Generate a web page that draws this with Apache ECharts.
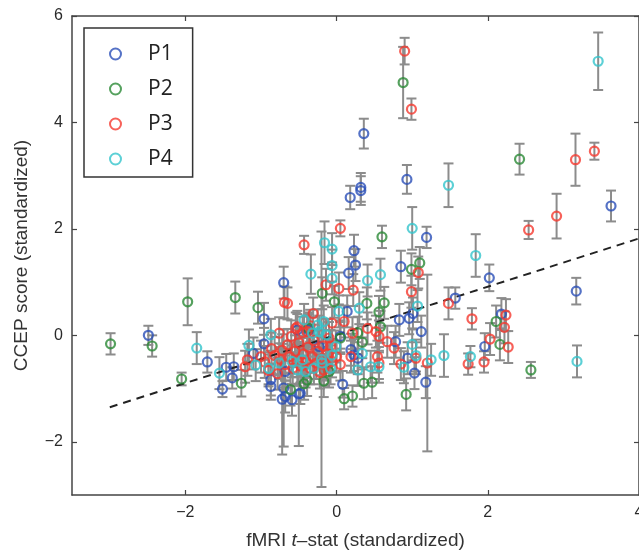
<!DOCTYPE html>
<html>
<head>
<meta charset="utf-8">
<script src="https://cdn.jsdelivr.net/npm/echarts@6/dist/echarts.min.js"></script>
<style>
html,body{margin:0;padding:0;background:#fff;}
#chart{width:639px;height:552px;}
</style>
</head>
<body>
<div id="chart"></div>
<script>
// [x (fMRI t-stat), y (CCEP score), error half-length]
const P1 = [
  [-2.49, 0.00, 0.18], [-1.71, -0.50, 0.20], [-1.51, -1.01, 0.15], [-1.46, -0.60, 0.25],
  [-1.36, -0.59, 0.25], [-1.38, -0.80, 0.20], [-1.10, -0.34, 0.30], [-0.96, 0.31, 0.30],
  [-0.96, -0.16, 0.30], [-0.87, -0.96, 0.25], [-0.87, -0.83, 0.30], [-0.70, 0.99, 0.30],
  [-0.72, -1.20, 1.04], [-0.70, -0.99, 1.10], [-0.68, -0.68, 0.30], [-0.68, -1.15, 0.30],
  [-0.59, -1.21, 0.30], [-0.50, -1.10, 0.98], [-0.48, -1.09, 0.20], [-0.37, 0.10, 0.30],
  [-0.52, 0.10, 0.30], [-0.23, -0.21, 0.30], [0.05, -0.02, 0.30], [0.08, -0.92, 0.25],
  [0.14, 0.45, 0.30], [0.16, 1.17, 0.30], [0.18, 2.59, 0.22], [0.19, -0.27, 0.30],
  [0.23, -0.37, 0.30], [0.23, 1.59, 0.30], [0.25, 1.32, 0.30], [0.28, -0.43, 0.30],
  [0.32, 2.78, 0.27], [0.32, 2.72, 0.27], [0.36, 3.79, 0.28], [0.78, -0.12, 0.30],
  [0.83, 0.29, 0.30], [0.85, 1.29, 0.30], [0.93, 2.93, 0.27], [0.94, -0.43, 0.30],
  [0.96, 0.32, 0.30], [1.01, 0.41, 0.30], [1.03, -0.71, 0.30], [1.12, 0.07, 0.30],
  [1.18, -0.88, 0.30], [1.19, 1.84, 0.20], [1.57, 0.70, 0.20], [1.96, -0.21, 0.25],
  [2.02, 1.08, 0.25], [2.18, 0.40, 0.30], [3.17, 0.83, 0.25], [3.63, 2.43, 0.29]
];
const P2 = [
  [-2.99, -0.16, 0.20], [-2.44, -0.20, 0.20], [-2.05, -0.82, 0.12], [-1.97, 0.63, 0.44],
  [-1.34, 0.71, 0.30], [-1.26, -0.90, 0.25], [-1.04, 0.52, 0.30], [-0.61, -1.02, 0.30],
  [-0.43, -0.91, 0.30], [-0.39, -0.84, 0.30], [-0.37, 0.13, 0.30], [-0.19, 0.79, 0.30],
  [-0.17, -0.86, 0.30], [-0.10, -0.68, 0.30], [-0.03, 0.63, 0.30], [0.05, -0.05, 0.30],
  [0.10, -1.19, 0.20], [0.21, -1.14, 0.20], [0.28, 0.05, 0.30], [0.34, -0.13, 0.30],
  [0.36, -0.90, 0.30], [0.40, 0.60, 0.30], [0.47, -0.88, 0.30], [0.56, 0.44, 0.30],
  [0.58, 0.16, 0.30], [0.60, 1.85, 0.21], [0.63, 0.61, 0.30], [0.88, 4.75, 0.67],
  [0.92, -1.11, 0.30], [0.99, 1.24, 0.30], [1.10, 1.36, 0.30], [2.11, 0.26, 0.30],
  [2.16, -0.17, 0.30], [2.42, 3.31, 0.29], [2.57, -0.65, 0.15]
];
const P3 = [
  [0.90, 5.34, 0.25], [0.99, 4.25, 0.20], [3.16, 3.30, 0.49], [3.41, 3.46, 0.16],
  [2.91, 2.24, 0.42], [2.54, 1.98, 0.17], [0.05, 2.01, 0.15], [-0.43, 1.70, 0.17],
  [-0.69, 0.62, 0.30], [1.08, 1.18, 0.30], [0.99, 0.82, 0.30], [1.48, 0.60, 0.30],
  [1.79, 0.31, 0.20], [2.24, 0.38, 0.30], [2.22, 0.15, 0.30], [2.03, -0.07, 0.30],
  [2.27, -0.22, 0.30], [1.74, -0.54, 0.20], [1.95, -0.50, 0.20], [1.20, -0.52, 1.66],
  [1.05, -0.43, 0.30], [0.85, -0.54, 0.30], [0.76, -0.24, 0.30], [0.67, -0.12, 0.30],
  [0.56, -0.02, 0.30], [0.54, -0.40, 0.30], [0.56, -0.52, 0.30], [0.52, 0.07, 0.30],
  [0.41, 0.13, 0.30], [0.21, 0.04, 0.30], [0.19, -0.40, 0.30], [0.10, 0.26, 0.30],
  [0.22, 0.85, 0.30], [0.03, 0.88, 0.30], [-0.14, 0.95, 0.30], [-0.31, 0.41, 0.30],
  [-0.65, 0.60, 0.30], [-0.06, 0.23, 0.30], [-0.39, 0.07, 0.30], [-0.52, 0.16, 0.30],
  [-0.76, 0.04, 0.30], [-1.18, -0.46, 0.30], [-1.21, -0.59, 0.30], [-0.17, -0.65, 0.30],
  [-0.06, -0.49, 0.30], [-1.00, -0.40, 0.30], [-0.95, -0.50, 0.30], [-0.90, -0.66, 0.30],
  [-0.86, -0.25, 0.30], [-0.82, -0.38, 0.35], [-0.78, -0.72, 0.30], [-0.75, -0.45, 0.30],
  [-0.72, -0.28, 0.30], [-0.68, -0.55, 0.30], [-0.65, -0.18, 0.30], [-0.62, -0.40, 0.30],
  [-0.60, -0.02, 0.30], [-0.58, -0.62, 0.30], [-0.55, -0.30, 0.30], [-0.52, -0.48, 0.30],
  [-0.50, -0.14, 0.30], [-0.47, -0.58, 0.30], [-0.45, 0.05, 0.30], [-0.44, -0.35, 0.30],
  [-0.40, -0.50, 0.30], [-0.38, -0.22, 0.30], [-0.35, -0.62, 0.30], [-0.35, 0.18, 0.30],
  [-0.32, -0.40, 0.30], [-0.30, -0.10, 0.30], [-0.27, -0.52, 0.30], [-0.25, -0.30, 0.30],
  [-0.22, -0.70, 0.30], [-0.20, -0.45, 0.30], [-0.18, -0.20, 0.30], [-0.14, -0.55, 0.30],
  [-0.12, -0.35, 0.30], [-0.10, -0.05, 0.30], [-0.08, -0.20, 0.30], [0.00, -0.40, 0.30],
  [0.05, -0.55, 0.30], [-0.54, 0.13, 0.30]
];
const P4 = [
  [3.46, 5.15, 0.54], [1.48, 2.82, 0.41], [1.00, 2.01, 0.40], [1.84, 1.50, 0.40],
  [-0.16, 1.74, 0.40], [-0.06, 1.62, 0.30], [-0.06, 1.31, 0.30], [-0.06, 1.07, 0.30],
  [0.58, 1.14, 0.30], [0.41, 1.03, 0.30], [-0.34, 1.15, 0.37], [1.07, 0.55, 0.30],
  [0.30, 0.51, 0.30], [0.03, 0.45, 0.30], [-0.43, 0.29, 0.30], [-0.17, 0.26, 0.30],
  [-0.25, 0.19, 0.30], [-0.87, 0.01, 0.30], [-0.32, 0.04, 0.30], [-0.23, 0.07, 0.30],
  [-0.14, 0.01, 0.30], [-1.16, -0.19, 0.30], [-1.85, -0.24, 0.30], [-1.55, -0.71, 0.30],
  [-1.07, -0.56, 0.30], [-0.90, -0.62, 0.30], [-0.76, -0.52, 0.30], [-0.59, -0.49, 0.30],
  [-0.45, -0.46, 0.30], [-0.52, -0.65, 0.30], [-0.41, -0.68, 0.30], [-0.30, -0.62, 0.30],
  [-0.19, -0.52, 0.30], [-0.08, -0.62, 0.30], [-0.01, -0.21, 0.30], [-0.06, -0.37, 0.30],
  [-0.20, -0.45, 2.40], [0.34, -0.34, 0.30], [0.28, -0.65, 0.30], [0.45, -0.59, 0.30],
  [0.56, -0.59, 0.30], [0.89, -0.60, 0.30], [1.00, -0.17, 0.30], [1.05, -0.38, 0.30],
  [1.25, -0.46, 0.30], [1.42, -0.38, 0.40], [1.77, -0.40, 0.20], [3.18, -0.49, 0.30]
];
const seriesNames = ['P1', 'P2', 'P3', 'P4'];
const seriesData = [P1, P2, P3, P4];
const seriesColors = ['#2a4fb8', '#2a8a36', '#f5392f', '#33c4cc'];
const regressionLine = [[-3.0, -1.35], [4.0, 1.82]];
const xTickValues = [-2, 0, 2, 4];
const yTickValues = [-2, 0, 2, 4, 6];
const xRange = [-3.5, 4];
const yRange = [-3, 6];

const chart = echarts.init(document.getElementById('chart'), null, {renderer: 'canvas'});
const axisColor = '#444';
const labelFont = 'Liberation Sans, Arial, sans-serif';

function errRender(params, api) {
  const x = api.value(0), y = api.value(1), e = api.value(2);
  const t = api.coord([x, y + e]);
  const b = api.coord([x, y - e]);
  const hw = 5;
  const st = {stroke: '#8c8c8c', lineWidth: 2};
  return {
    type: 'group',
    children: [
      {type: 'line', shape: {x1: t[0], y1: t[1], x2: b[0], y2: b[1]}, style: st},
      {type: 'line', shape: {x1: t[0] - hw, y1: t[1], x2: t[0] + hw, y2: t[1]}, style: st},
      {type: 'line', shape: {x1: b[0] - hw, y1: b[1], x2: b[0] + hw, y2: b[1]}, style: st}
    ]
  };
}

const series = [];
seriesData.forEach((d, i) => {
  series.push({
    type: 'custom', name: 'err' + i, renderItem: errRender, data: d,
    encode: {x: 0, y: 1}, z: 1, silent: true, clip: false
  });
});
series.push({
  type: 'line', name: 'fit', data: regressionLine, showSymbol: false, symbol: 'none',
  lineStyle: {color: '#222', width: 2, type: [8, 6]}, z: 2, silent: true
});
seriesData.forEach((d, i) => {
  series.push({
    type: 'scatter', name: seriesNames[i], data: d.map(p => [p[0], p[1]]),
    symbol: 'circle', symbolSize: 9,
    itemStyle: {color: 'rgba(255,255,255,0)', borderColor: seriesColors[i], borderWidth: 2.2},
    z: 3 + i
  });
});

const baseX = {
  type: 'value', min: xRange[0], max: xRange[1],
  axisLine: {show: true, onZero: false, lineStyle: {color: axisColor, width: 1.5}},
  axisTick: {show: true, inside: true, length: 5, customValues: xTickValues, lineStyle: {color: axisColor, width: 1.2}},
  splitLine: {show: false}
};
const baseY = {
  type: 'value', min: yRange[0], max: yRange[1],
  axisLine: {show: true, onZero: false, lineStyle: {color: axisColor, width: 1.5}},
  axisTick: {show: true, inside: true, length: 5, customValues: yTickValues, lineStyle: {color: axisColor, width: 1.2}},
  splitLine: {show: false}
};

chart.setOption({
  animation: false,
  backgroundColor: '#fff',
  grid: {left: 72, right: 0, top: 16, bottom: 57, containLabel: false, outerBoundsMode: 'none'},
  legend: {
    data: seriesNames, orient: 'vertical', left: 84, top: 28,
    borderColor: '#333', borderWidth: 1.5, backgroundColor: '#fff',
    padding: [15, 20, 7, 25], itemGap: 13, itemWidth: 11, itemHeight: 11,
    textStyle: {fontFamily: 'Open Sans', fontSize: 21, color: '#222', lineHeight: 22, padding: [0, 0, 0, 22]},
    selectedMode: false
  },
  xAxis: [
    Object.assign({}, baseX, {
      position: 'bottom',
      name: '{a|fMRI }{i|t}{a|\u2013stat (standardized)}', nameLocation: 'middle', nameGap: 36,
      nameTextStyle: {rich: {
        a: {fontFamily: labelFont, fontSize: 19, color: '#333'},
        i: {fontFamily: labelFont, fontSize: 19, color: '#333', fontStyle: 'italic'}
      }},
      axisLabel: {customValues: xTickValues, margin: 10, fontFamily: labelFont, fontSize: 16, color: '#2a2a2a',
        formatter: v => (v < 0 ? '\u2212' + Math.abs(v) : String(v))}
    }),
    Object.assign({}, baseX, {position: 'top', axisLabel: {show: false}})
  ],
  yAxis: [
    Object.assign({}, baseY, {
      position: 'left',
      name: 'CCEP score (standardized)', nameLocation: 'middle', nameGap: 41,
      nameTextStyle: {fontFamily: labelFont, fontSize: 19, color: '#333'},
      axisLabel: {customValues: yTickValues, margin: 9, fontFamily: labelFont, fontSize: 16, color: '#2a2a2a',
        formatter: v => (v < 0 ? '\u2212' + Math.abs(v) : String(v))}
    }),
    Object.assign({}, baseY, {position: 'right', axisLabel: {show: false}})
  ],
  series: series
});
</script>
</body>
</html>
